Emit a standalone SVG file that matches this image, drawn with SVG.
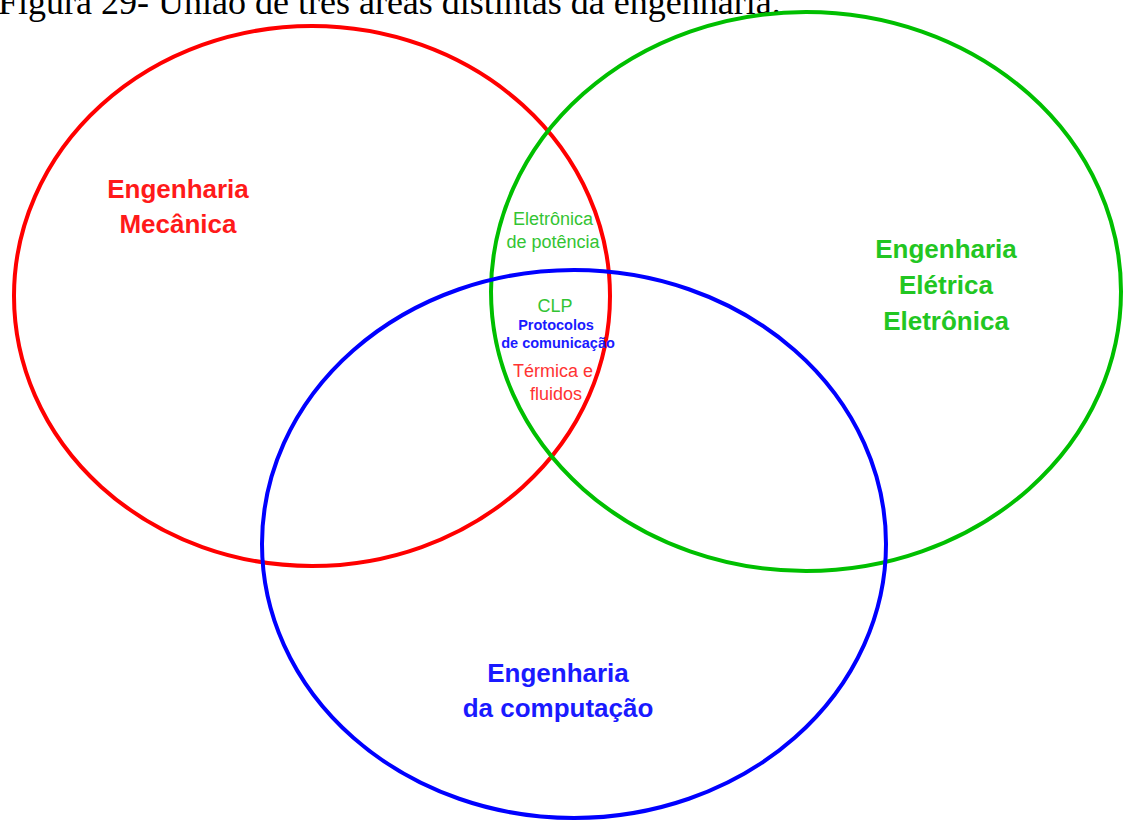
<svg xmlns="http://www.w3.org/2000/svg" width="1127" height="821" viewBox="0 0 1127 821">
<style>
.ring{fill:none;stroke-width:4}
.big{font-family:"Liberation Sans",Arial,sans-serif;font-weight:bold;font-size:26px;text-anchor:middle}
.sm{font-family:"Liberation Sans",Arial,sans-serif;font-size:18px;text-anchor:middle}
.smb{font-family:"Liberation Sans",Arial,sans-serif;font-weight:bold;font-size:14.5px;text-anchor:middle}
.cap{font-family:"Liberation Serif","Times New Roman",serif;font-size:36px}
</style>
<rect width="1127" height="821" fill="#ffffff"/>
<text class="cap" x="-2" y="14" fill="#000">Figura 29- União de três áreas distintas da engenharia.</text>
<g id="mecanica">
<ellipse class="ring" cx="312" cy="296" rx="298" ry="270" stroke="#ff0000"/>
<text class="big" x="178" y="198" fill="#ff1a1a">Engenharia</text>
<text class="big" x="178" y="233" fill="#ff1a1a">Mecânica</text>
</g>
<g id="eletrica">
<ellipse class="ring" cx="806" cy="291.5" rx="315" ry="279.5" stroke="#00bf00"/>
<text class="big" x="946" y="258" fill="#22c622">Engenharia</text>
<text class="big" x="946" y="294" fill="#22c622">Elétrica</text>
<text class="big" x="946" y="330" fill="#22c622">Eletrônica</text>
</g>
<g id="computacao">
<ellipse class="ring" cx="574" cy="544" rx="312" ry="274" stroke="#0000ff"/>
<text class="big" x="558" y="682" fill="#1a1aff">Engenharia</text>
<text class="big" x="558" y="717" fill="#1a1aff">da computação</text>
</g>
<g id="intersecao">
<text class="sm" x="553" y="225" fill="#33c433">Eletrônica</text>
<text class="sm" x="553" y="248" fill="#33c433">de potência</text>
<text class="sm" x="555" y="312" font-size="20" fill="#33c433">CLP</text>
<text class="smb" x="556" y="330" fill="#1a1aff">Protocolos</text>
<text class="smb" x="558" y="348" fill="#1a1aff">de comunicação</text>
<text class="sm" x="553" y="377" fill="#ff3333">Térmica e</text>
<text class="sm" x="556" y="400" fill="#ff3333">fluidos</text>
</g>
<g id="connectors"/>
</svg>
